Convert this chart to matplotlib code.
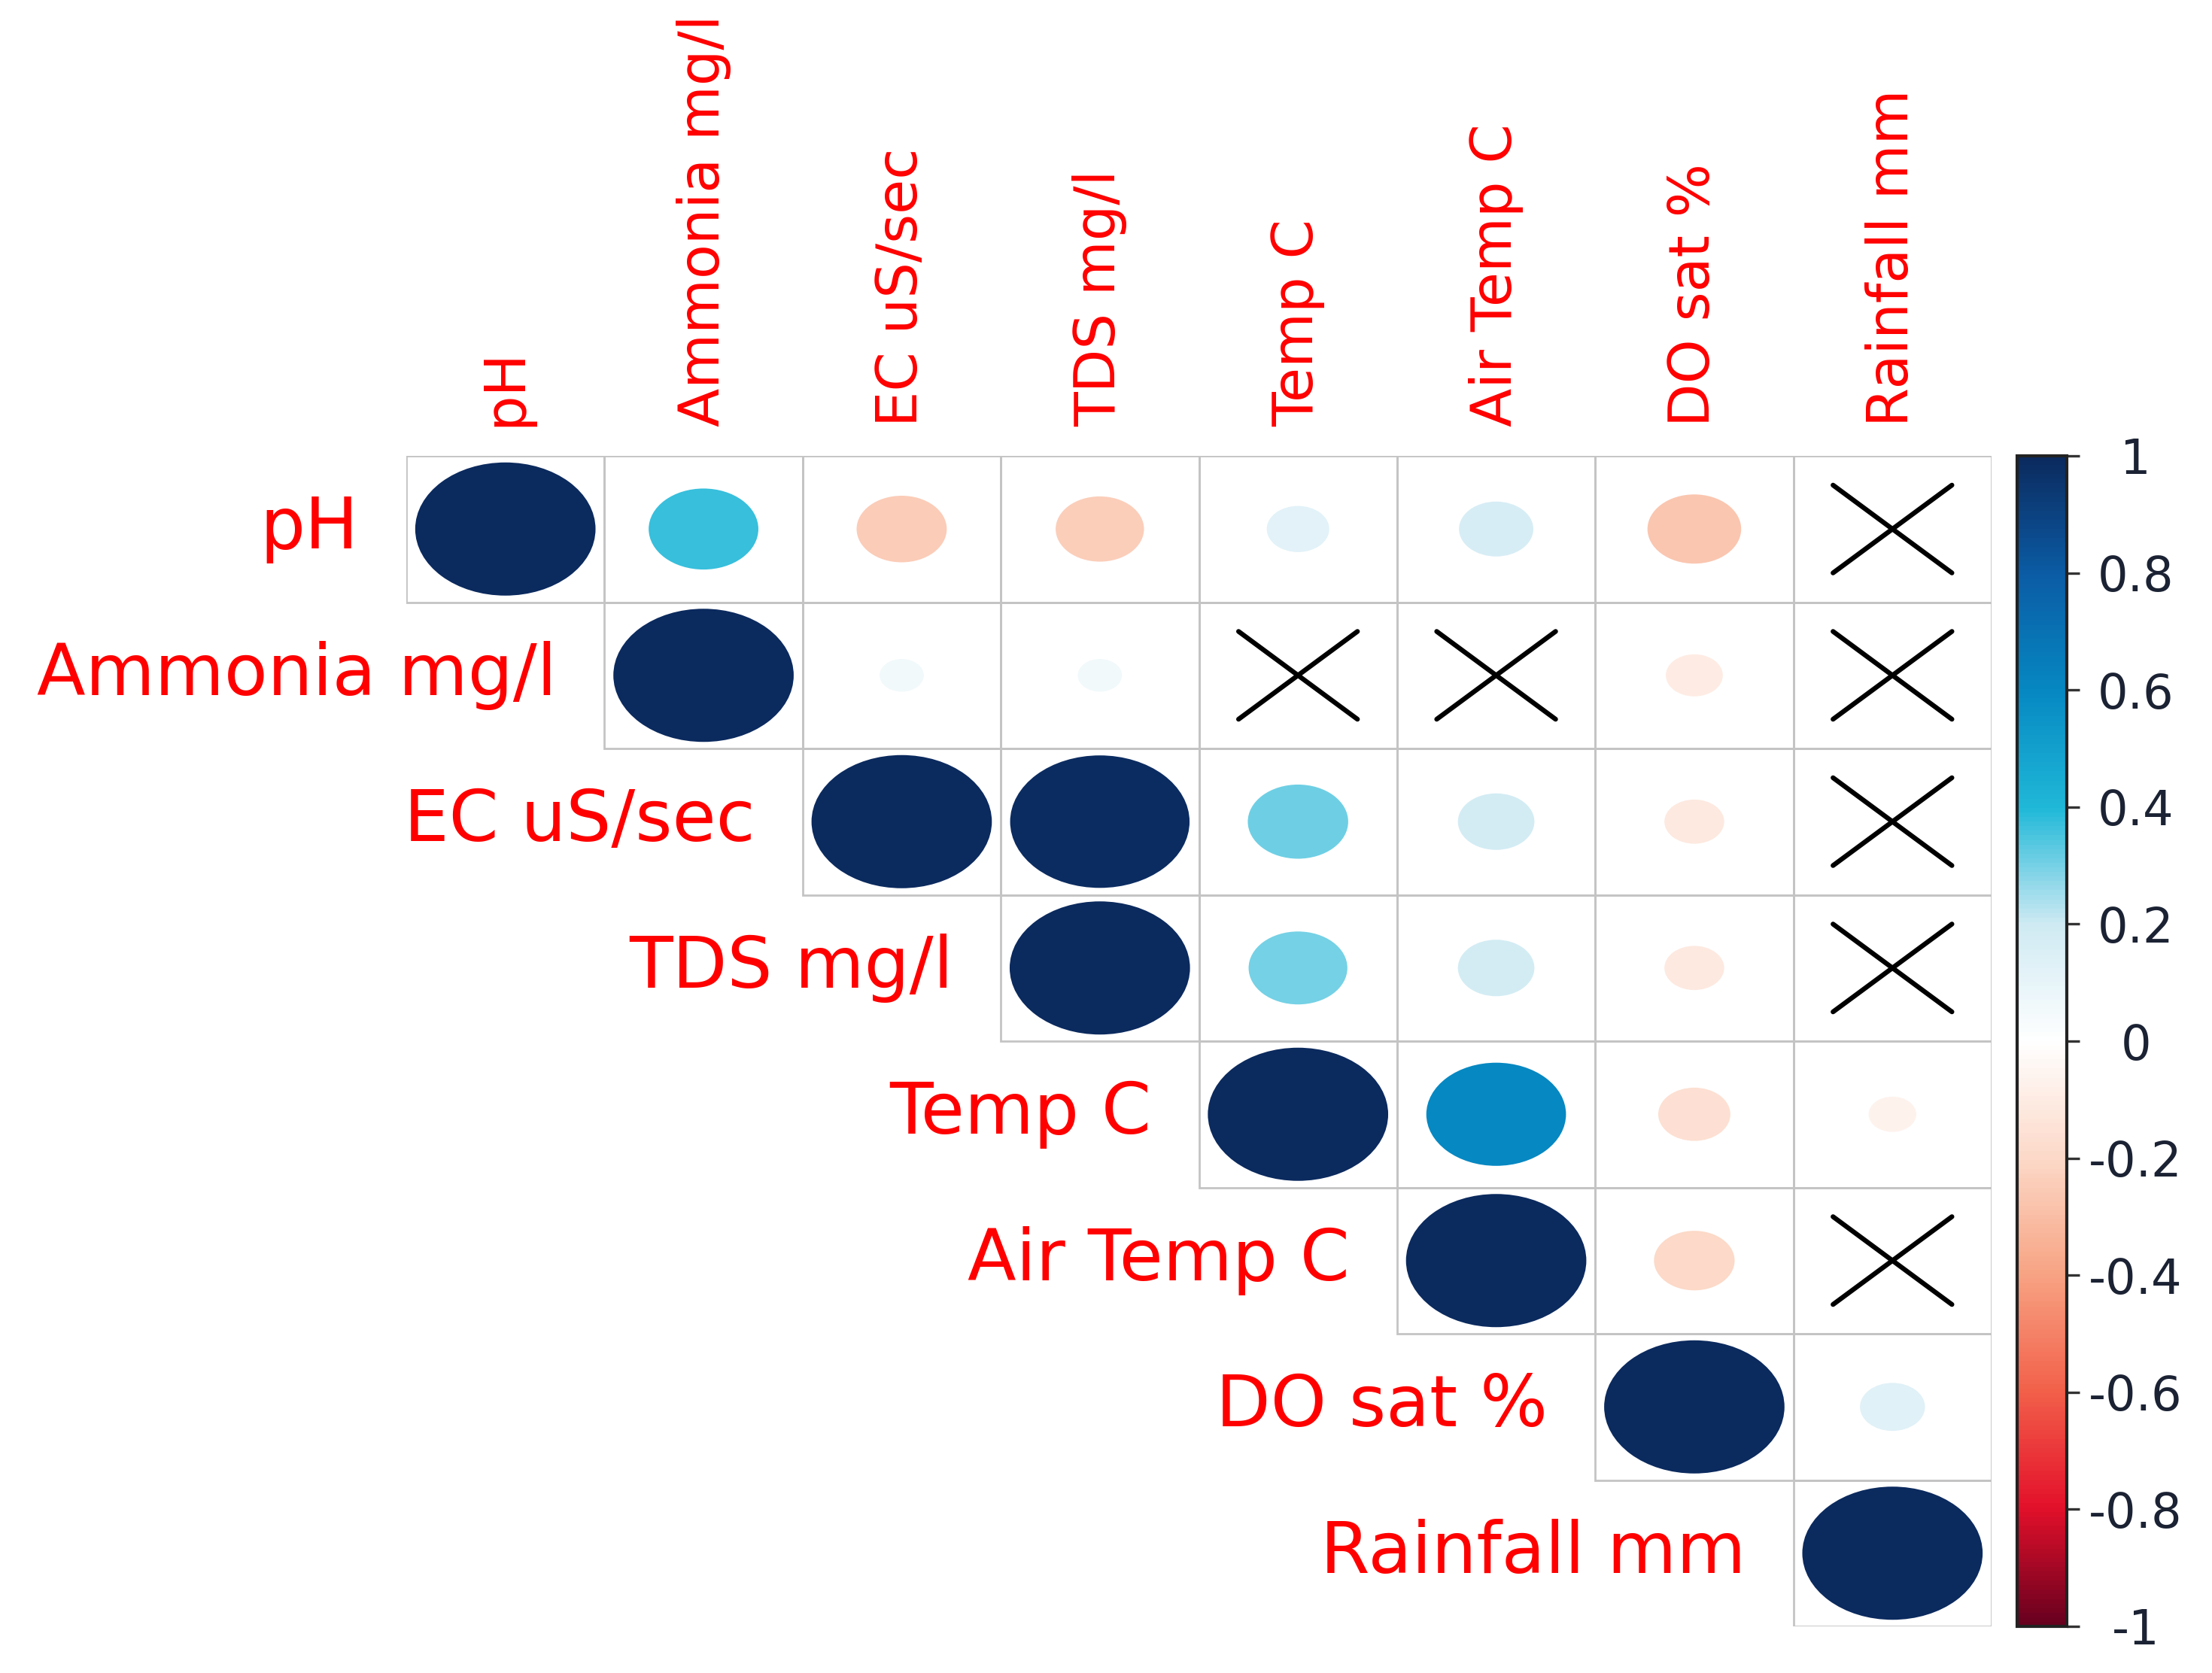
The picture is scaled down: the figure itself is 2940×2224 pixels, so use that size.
import numpy as np
import matplotlib
matplotlib.use('Agg')
import matplotlib.pyplot as plt
from matplotlib.patches import Ellipse, Rectangle
from matplotlib.colors import LinearSegmentedColormap, Normalize
from matplotlib.cm import ScalarMappable

# variable names
labels = ['pH', 'Ammonia mg/l', 'EC uS/sec', 'TDS mg/l', 'Temp C',
          'Air Temp C', 'DO sat %', 'Rainfall mm']

# upper triangle of correlation matrix (nan = lower part / not shown)
nan = np.nan
corr = [
    [1.00, 0.37, -0.25, -0.24, 0.12, 0.17, -0.27, nan],
    [nan, 1.00, 0.06, 0.06, nan, nan, -0.10, nan],
    [nan, nan, 1.00, 0.99, 0.31, 0.18, -0.11, nan],
    [nan, nan, nan, 1.00, 0.30, 0.18, -0.11, nan],
    [nan, nan, nan, nan, 1.00, 0.60, -0.16, -0.07],
    [nan, nan, nan, nan, nan, 1.00, -0.20, nan],
    [nan, nan, nan, nan, nan, nan, 1.00, 0.13],
    [nan, nan, nan, nan, nan, nan, nan, 1.00],
]
# non significant pairs (crossed out)
insig = [(0, 7), (1, 4), (1, 5), (1, 7), (2, 7), (3, 7), (5, 7)]

cbar_ticks = [1, 0.8, 0.6, 0.4, 0.2, 0, -0.2, -0.4, -0.6, -0.8, -1]
cbar_ticklabels = ['1', '0.8', '0.6', '0.4', '0.2', '0', '-0.2', '-0.4', '-0.6', '-0.8', '-1']

# colour ramp
cols = ['#67001F', '#E3102A', '#F2604A', '#F7A383', '#FCD9C8', '#FFFFFF',
        '#CFEAF3', '#1FB8D8', '#0688C2', '#0B5CA5', '#0B2A5E']
cmap = LinearSegmentedColormap.from_list('corr', cols)
norm = Normalize(-1, 1)

W, H = 2940, 2224
fig = plt.figure(figsize=(W / 200, H / 200), dpi=200)
ax = fig.add_axes([540 / W, 1 - 2162 / H, 2107 / W, 1556 / H])
n = len(labels)
ax.set_xlim(0, n)
ax.set_ylim(n, 0)
ax.axis('off')

grid_col = '#C4C4C4'
for i in range(n):
    for j in range(i, n):
        ax.add_patch(Rectangle((j, i), 1, 1, fill=False, edgecolor=grid_col, lw=1.0, zorder=1))
        if (i, j) in insig:
            d = 0.3
            ax.plot([j + 0.5 - d, j + 0.5 + d], [i + 0.5 - d, i + 0.5 + d], color='k', lw=2.3,
                    solid_capstyle='round', zorder=3)
            ax.plot([j + 0.5 - d, j + 0.5 + d], [i + 0.5 + d, i + 0.5 - d], color='k', lw=2.3,
                    solid_capstyle='round', zorder=3)
            continue
        r = corr[i][j]
        s = 0.91 * np.sqrt(abs(r))
        ax.add_patch(Ellipse((j + 0.5, i + 0.5), s, s, facecolor=cmap(norm(r)),
                             edgecolor='none', zorder=2))

# labels
for i, lab in enumerate(labels):
    ax.text(i - 0.24, i + 0.5, lab, ha='right', va='center', color='#FF0000',
            fontsize=34, family='DejaVu Sans')
    ax.text(i + 0.5, -0.2, lab, ha='center', va='bottom', rotation=90, color='#FF0000',
            fontsize=27, family='DejaVu Sans')

# colour legend
cax = fig.add_axes([2681 / W, 1 - 2162 / H, 66 / W, 1556 / H])
cb = fig.colorbar(ScalarMappable(norm=norm, cmap=cmap), cax=cax, ticks=cbar_ticks)
cb.set_ticklabels(cbar_ticklabels)
cb.outline.set_edgecolor('#222222')
cb.outline.set_linewidth(1.5)
cax.tick_params(axis='y', length=6, width=1.2, pad=27, labelsize=23,
                labelcolor='#1B2233', color='#333333')
for t in cax.get_yticklabels():
    t.set_horizontalalignment('center')

fig.savefig('out.png', dpi=200)
